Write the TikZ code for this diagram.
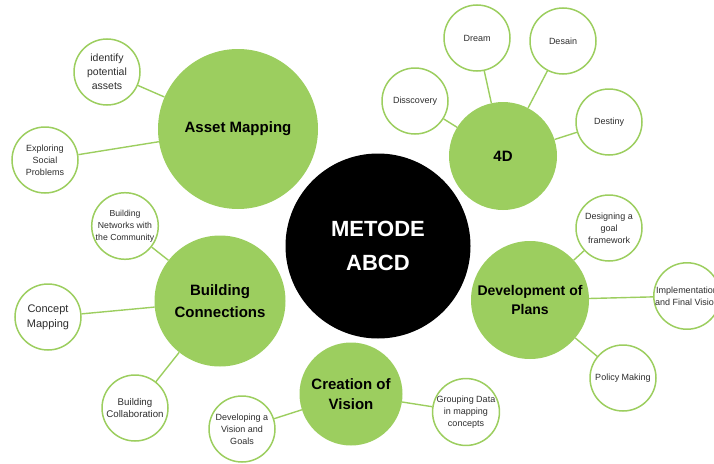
\documentclass[tikz,border=0pt]{standalone}
\usepackage{fontspec}
\setmainfont{Liberation Sans}
\definecolor{leafgreen}{RGB}{156,206,95}
\definecolor{inkgray}{RGB}{45,45,45}

\begin{document}
\begin{tikzpicture}[x=1pt, y=-1pt,
    core/.style={circle, fill=black, inner sep=0pt, align=center, text=white,
        font=\fontsize{22}{34}\selectfont\bfseries},
    hub/.style={circle, fill=leafgreen, inner sep=0pt, align=center,
        font=\fontsize{15}{21}\selectfont\bfseries},
    leaf/.style={circle, draw=leafgreen, line width=1.5pt, fill=white, minimum size=66pt,
        inner sep=0pt, align=center, text=inkgray, font=\fontsize{9}{12}\selectfont},
    link/.style={draw=leafgreen, line width=1.4pt}]
    \useasboundingbox (0,0) rectangle (714,463);

    % Centre
    \node[core, minimum size=185pt] (metode) at (378,246) {METODE\\ABCD};

    % Main steps
    \node[hub, minimum size=160pt] (asset) at (238,129) {Asset Mapping};
    \node[hub, minimum size=131pt, font=\fontsize{15}{21.5}\selectfont\bfseries] (build) at (220,301) {Building\\Connections};
    \node[hub, minimum size=103pt, font=\fontsize{15}{20}\selectfont\bfseries] (creat) at (351,394) {Creation of\\Vision};
    \node[hub, minimum size=118pt, font=\fontsize{14}{19}\selectfont\bfseries] (devel) at (530,300) {Development of\\Plans};
    \node[hub, minimum size=108pt] (fourd) at (503,156) {4D};

    % Asset Mapping leaves
    \node[leaf, font=\fontsize{10.5}{14}\selectfont] (ident) at (107,72) {identify\\potential\\assets};
    \node[leaf] (explo) at (45,160) {Exploring\\Social\\Problems};

    % Building Connections leaves
    \node[leaf, font=\fontsize{8.7}{12}\selectfont] (netw) at (125,226) {Building\\Networks with\\the Community};
    \node[leaf, font=\fontsize{11}{15}\selectfont] (conc) at (48,317) {Concept\\Mapping};
    \node[leaf, font=\fontsize{9.7}{12.7}\selectfont] (colla) at (135,408) {Building\\Collaboration};

    % Creation of Vision leaves
    \node[leaf] (devv) at (242,429) {Developing a\\Vision and\\Goals};
    \node[leaf] (group) at (466,412) {Grouping Data\\in mapping\\concepts};

    % Development of Plans leaves
    \node[leaf] (design) at (609,228) {Designing a\\goal\\framework};
    \node[leaf] (impl) at (687,296) {Implementation\\and Final Vision};
    \node[leaf] (policy) at (623,378) {Policy Making};

    % 4D leaves
    \node[leaf] (disc) at (415,101) {Disscovery};
    \node[leaf] (dream) at (477,38) {Dream};
    \node[leaf] (desain) at (563,41) {Desain};
    \node[leaf] (destiny) at (609,122) {Destiny};

    % Links
    \path[link]
    (ident) edge (asset)
    (explo) edge (asset)
    (netw) edge (build)
    (conc) edge (build)
    (colla) edge (build)
    (devv) edge (creat)
    (group) edge (creat)
    (design) edge (devel)
    (impl) edge (devel)
    (policy) edge (devel)
    (disc) edge (fourd)
    (dream) edge (fourd)
    (desain) edge (fourd)
    (destiny) edge (fourd);
\end{tikzpicture}
\end{document}
